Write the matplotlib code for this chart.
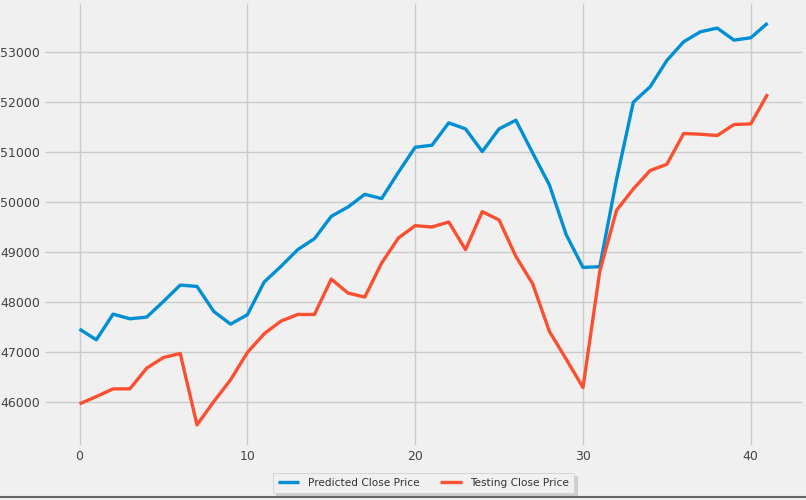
import matplotlib
matplotlib.use("Agg")
import matplotlib.pyplot as plt
from matplotlib.lines import Line2D

# close prices, one value per test day
predicted_close = [47460, 47247, 47760, 47667, 47700, 48013, 48340, 48313, 47813, 47560,
                   47747, 48400, 48713, 49047, 49267, 49713, 49900, 50153, 50067, 50593,
                   51093, 51133, 51580, 51460, 51007, 51460, 51633, 50980, 50340, 49347,
                   48693, 48707, 50450, 51993, 52300, 52827, 53200, 53400, 53473, 53233,
                   53280, 53573]
testing_close = [45967, 46113, 46267, 46267, 46680, 46893, 46973, 45547, 46013, 46447,
                 46993, 47367, 47620, 47753, 47753, 48460, 48180, 48100, 48780, 49280,
                 49527, 49500, 49600, 49047, 49807, 49640, 48913, 48367, 47413, 46860,
                 46293, 48613, 49833, 50260, 50627, 50753, 51367, 51353, 51327, 51547,
                 51560, 52153]
days = list(range(len(predicted_close)))

plt.style.use("fivethirtyeight")
fig = plt.figure(figsize=(8.06, 5), dpi=100)
ax = fig.add_axes([0.056, 0.11, 0.939, 0.884])

ax.plot(days, predicted_close, linewidth=2.4, label="Predicted Close Price")
ax.plot(days, testing_close, linewidth=2.4, label="Testing Close Price")

ax.tick_params(axis="both", labelsize=9, colors="#444444")
ax.set_yticks([46000, 47000, 48000, 49000, 50000, 51000, 52000, 53000])
for sp in ax.spines.values():
    sp.set_visible(False)

leg = ax.legend(loc="upper center", bbox_to_anchor=(0.5, -0.051), ncol=2,
                fontsize=7.6, shadow={"color": "#b0b0b0"}, fancybox=False, frameon=True,
                handlelength=2.0, borderpad=0.5)
for t in leg.get_texts():
    t.set_color("#333333")

# thin dark border along the bottom edge, as in the screenshot
fig.add_artist(Line2D([0, 1], [0.006, 0.006], transform=fig.transFigure,
                      color="#666666", linewidth=1.5))

plt.savefig("out.png", dpi=100)
plt.close()
